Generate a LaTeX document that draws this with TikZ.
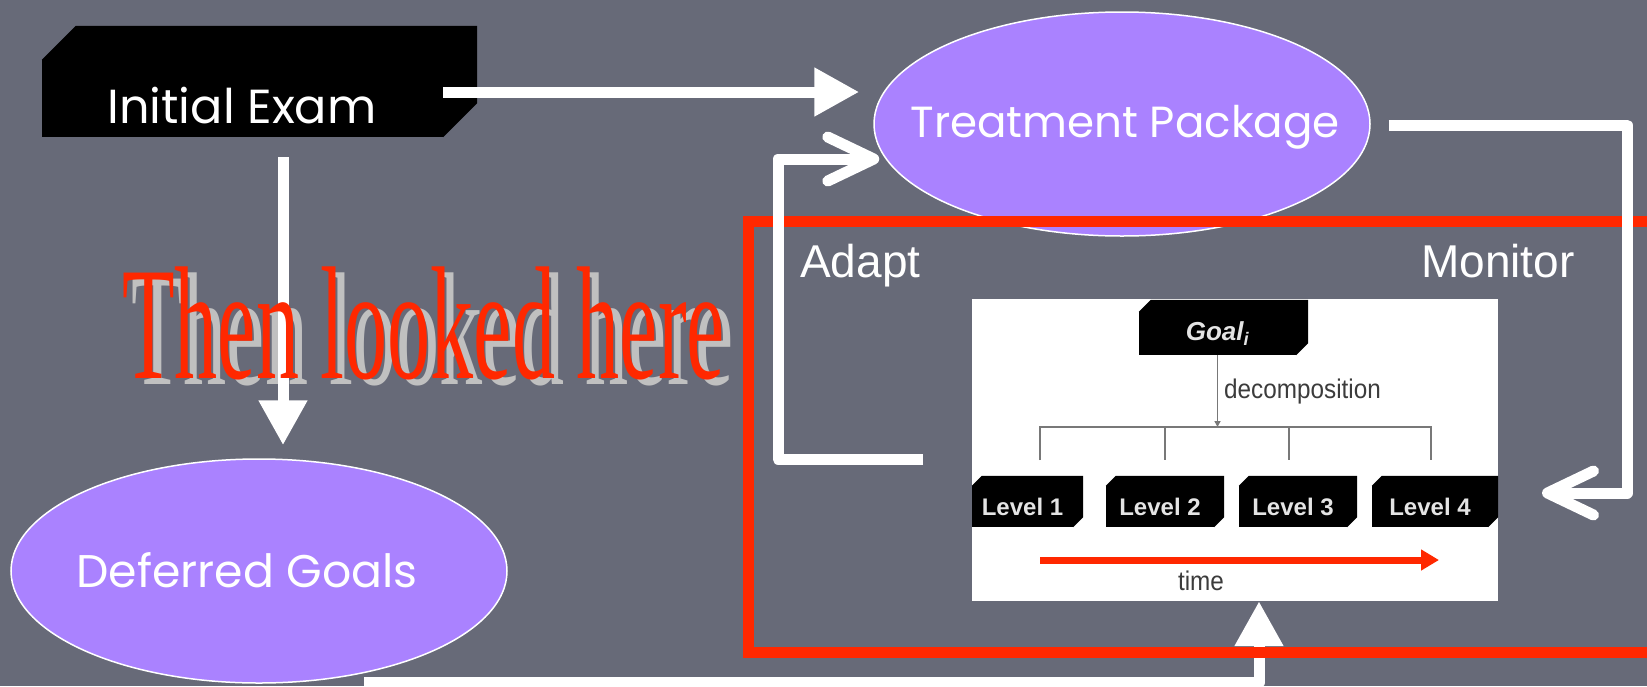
\documentclass[tikz,border=0pt]{standalone}
\usepackage{fontspec}
\usetikzlibrary{arrows.meta,shapes.geometric,calc}
\newfontfamily\comicfont{Poppins}
\newfontfamily\arialfont{Liberation Sans}
\newfontfamily\timesfont{Liberation Serif}
\definecolor{bg}{RGB}{103,106,120}
\definecolor{lilac}{RGB}{170,130,255}
\definecolor{hot}{RGB}{255,40,0}
\definecolor{shade}{RGB}{192,192,192}
\definecolor{treegray}{RGB}{120,120,120}
\definecolor{lvltext}{RGB}{228,228,228}
\definecolor{inkgray}{RGB}{60,60,60}
\newcommand\cubefaces[2]{%
  \fill[black] (#1.north west) -- ([shift={(#2,#2)}]#1.north west)
    -- ([shift={(#2,#2)}]#1.north east) -- ([shift={(#2,#2)}]#1.south east)
    -- (#1.south east) -- (#1.north east) -- cycle;}
\begin{document}
\begin{tikzpicture}[x=1pt,y=-1pt,
  wline/.style={draw=white,line width=11pt},
  headT/.style={-{Triangle[length=45pt,width=46pt]}},
  headB/.style={-{Straight Barb[length=46pt,width=44pt,round]},line join=round},
  bubble/.style={ellipse,fill=lilac,draw=white,line width=1.5pt,minimum width=496pt,minimum height=224pt,inner sep=0},
  cubefront/.style={rectangle,fill=black,inner sep=0},
  comic/.style={text=white,inner sep=0,anchor=base,font=\comicfont\fontsize{40}{40}\selectfont},
  caption/.style={text=white,inner sep=0,anchor=base west,font=\arialfont\fontsize{46}{46}\selectfont},
  lvl/.style={cubefront,minimum height=41pt,text=lvltext,font=\arialfont\bfseries\fontsize{24}{24}\selectfont},
  tree/.style={draw=treegray,line width=1.5pt},
  small/.style={text=inkgray,inner sep=0,font=\arialfont\fontsize{27}{27}\selectfont},
  bigword/.style={anchor=base west,inner sep=0,font=\timesfont\fontsize{161}{161}\selectfont}
]
\useasboundingbox (0,0) rectangle (1647,686);
\fill[bg] (0,0) rectangle (1647,686);
\begin{scope}
\clip (0,0) rectangle (1647,686);

% Initial exam cube
\node[cubefront,minimum width=401pt,minimum height=77pt] (exam) at (242.5,98.5) {};
\cubefaces{exam}{34pt}
\node[comic] (examT) at (242,123) {\resizebox{269pt}{!}{Initial Exam}};

% ellipses
\node[bubble] (treat) at (1122,124) {};
\node[comic] (treatT) at (1125,137) {\resizebox{429pt}{!}{Treatment Package}};
\node[bubble] (deferred) at (259,571) {};
\node[comic] (deferredT) at (247,587) {\resizebox{341pt}{!}{Deferred Goals}};

% exam -> treatment
\draw[wline,headT] ([yshift=6.5pt]exam.east) -- ([shift={(-14pt,32pt)}]treat.west);

% white picture with goal decomposition
\node[rectangle,fill=white,minimum width=526pt,minimum height=302pt,inner sep=0] (img) at (1235,450) {};
\node[cubefront,minimum width=157pt,minimum height=43pt,text=lvltext,font=\arialfont\bfseries\itshape\fontsize{26}{26}\selectfont] (goal) at (1217.5,333.5) {Goal\textsubscript{i}};
\cubefaces{goal}{12pt}
\node[lvl,minimum width=101pt] (l1) at (1022.5,506.5) {Level 1};
\node[lvl,minimum width=108pt] (l2) at (1160,506.5) {Level 2};
\node[lvl,minimum width=108pt] (l3) at (1293,506.5) {Level 3};
\node[lvl,minimum width=116pt] (l4) at (1430,506.5) {Level 4};
\foreach \n in {l1,l2,l3,l4} {\cubefaces{\n}{10pt}}
\coordinate (bar) at (1217.5,427);
\draw[tree,-{Triangle[length=6pt,width=6pt]}] (goal.south) -- (bar);
\draw[tree] (1040,460) -- (1040,427) -- (1431,427) -- (1431,460);
\draw[tree] (1165,427) -- (1165,460);
\draw[tree] (1289,427) -- (1289,460);
\node[small,anchor=base west] (decomp) at (1224,398) {\scalebox{0.9}[1]{decomposition}};
\coordinate (tstart) at (1040,560);
\coordinate (tend) at (1439,560);
\draw[hot,line width=7pt,-{Triangle[length=18pt,width=20pt]}] (tstart) -- (tend);
\node[small,anchor=base] (time) at (1201,590) {\scalebox{0.9}[1]{time}};

% Deferred -> picture (under the red frame)
\draw[wline,headT,line join=round] ([xshift=105pt,yshift=1pt]deferred.south) -| ([xshift=24pt]img.south);

% red frame
\draw[hot,line width=11pt] (748,221) rectangle (1720,652);

% labels
\node[caption] (adapt) at (800,277) {Adapt};
\node[caption] (monitor) at (1421,277) {Monitor};

% monitor and adapt loops
\coordinate (monTip) at (1542,493);
\coordinate (adStart) at (923,459);
\draw[wline,headB] ([xshift=18pt,yshift=-1pt]treat.east) -| (1627,493) -- (monTip);
\draw[wline,headB] (adStart) -- (778,459) |- ([shift={(6pt,-35pt)}]treat.west);

% Then looked here
\node[bigword,text=shade] (thenS) at (131,384) {\scalebox{0.535}[1]{Then looked here}};
% exam -> deferred
\draw[wline,headT] ([shift={(40.5pt,-20pt)}]exam.south) -- ([shift={(24pt,13pt)}]deferred.north);
\node[bigword,text=hot] (then) at (122,378) {\scalebox{0.535}[1]{Then looked here}};
\end{scope}
\end{tikzpicture}
\end{document}
